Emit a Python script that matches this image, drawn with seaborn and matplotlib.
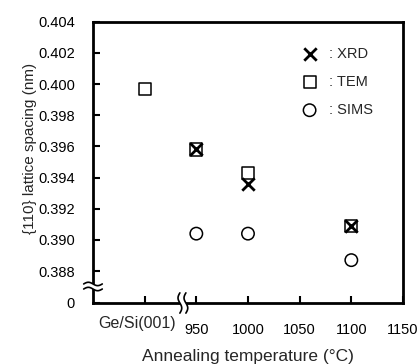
import numpy as np
import pandas as pd
import seaborn as sns
import matplotlib.pyplot as plt

# Data (Ge/Si(001) as-grown sample placed at x=900)
xrd_temp = [950, 1000, 1100]
xrd_spacing = [0.3958, 0.3936, 0.3909]

tem_temp = [900, 950, 1000, 1100]
tem_spacing = [0.3997, 0.3958, 0.3943, 0.3909]

sims_temp = [950, 1000, 1100]
sims_spacing = [0.3904, 0.3904, 0.3887]

xticks = [900, 950, 1000, 1050, 1100, 1150]
xtick_labels = ["", "950", "1000", "1050", "1100", "1150"]
yticks = [0.38595, 0.388, 0.390, 0.392, 0.394, 0.396, 0.398, 0.400, 0.402, 0.404]
ytick_labels = ["0", "0.388", "0.390", "0.392", "0.394", "0.396", "0.398", "0.400", "0.402", "0.404"]

sns.set_theme(style="ticks")
plt.rcParams['font.family'] = ['Liberation Sans', 'DejaVu Sans']

fig = plt.figure(figsize=(4.2, 3.64), dpi=100)
ax = fig.add_axes([0.2214, 0.1676, 0.7381, 0.7728])

sims = pd.DataFrame({"temp": sims_temp, "spacing": sims_spacing})
tem = pd.DataFrame({"temp": tem_temp, "spacing": tem_spacing})
xrd = pd.DataFrame({"temp": xrd_temp, "spacing": xrd_spacing})

sns.scatterplot(data=xrd, x="temp", y="spacing", marker="x", s=80, color="black",
                linewidth=2.0, label=": XRD", ax=ax, zorder=4)
sns.scatterplot(data=tem, x="temp", y="spacing", marker="s", s=75, facecolor="none",
                edgecolor="black", linewidth=1.1, label=": TEM", ax=ax, zorder=3)
sns.scatterplot(data=sims, x="temp", y="spacing", marker="o", s=80, facecolor="none",
                edgecolor="black", linewidth=1.1, label=": SIMS", ax=ax, zorder=3)

ax.set_xlim(850, 1150)
ax.set_ylim(yticks[0], yticks[-1])
ax.set_xticks(xticks)
ax.set_xticklabels(xtick_labels, fontsize=10.5)
ax.set_yticks(yticks)
ax.set_yticklabels(ytick_labels, fontsize=10.5)
ax.tick_params(axis="both", direction="in", length=5, width=1.5, colors="black")
ax.tick_params(axis="x", pad=14.5)
ax.tick_params(axis="y", pad=13)

for side in ["left", "right", "top", "bottom"]:
    ax.spines[side].set_visible(True)
    ax.spines[side].set_linewidth(2.0)
    ax.spines[side].set_color("black")

# raised label for the as-grown sample
ax.text(893, -0.072, "Ge/Si(001)", transform=ax.get_xaxis_transform(),
        ha="center", va="center", fontsize=11.5)

ax.set_xlabel("Annealing temperature (\u00b0C)", fontsize=12.5, labelpad=8.5)
ax.set_ylabel("{110} lattice spacing (nm)", fontsize=11)
ax.yaxis.set_label_coords(-0.18, 0.55)

# axis break marks
t = np.linspace(0, 1, 40)
wave = np.sin(2 * np.pi * t)
# y-axis break
yc, xw = 0.0587, 0.03
ax.plot([0, 0], [yc - 0.009, yc + 0.009], color="white", lw=4, transform=ax.transAxes,
        clip_on=False, zorder=5, solid_capstyle="butt")
for dy in (-0.009, 0.009):
    ax.plot(-xw + 2 * xw * t, yc + dy + 0.006 * wave, color="black", lw=1.2,
            transform=ax.transAxes, clip_on=False, zorder=6)
# x-axis break
xc, yh = 0.29, 0.036
ax.plot([xc - 0.0097, xc + 0.0097], [0, 0], color="white", lw=4, transform=ax.transAxes,
        clip_on=False, zorder=5, solid_capstyle="butt")
for dx in (-0.0097, 0.0097):
    ax.plot(xc + dx + 0.006 * wave, -yh + 2 * yh * t, color="black", lw=1.2,
            transform=ax.transAxes, clip_on=False, zorder=6)

ax.legend(loc="upper right", bbox_to_anchor=(0.93, 0.94), frameon=False, fontsize=10.5,
          handletextpad=0.8, handlelength=1.0, labelspacing=0.95, borderaxespad=0.2)

fig.savefig("out.png", dpi=100)
